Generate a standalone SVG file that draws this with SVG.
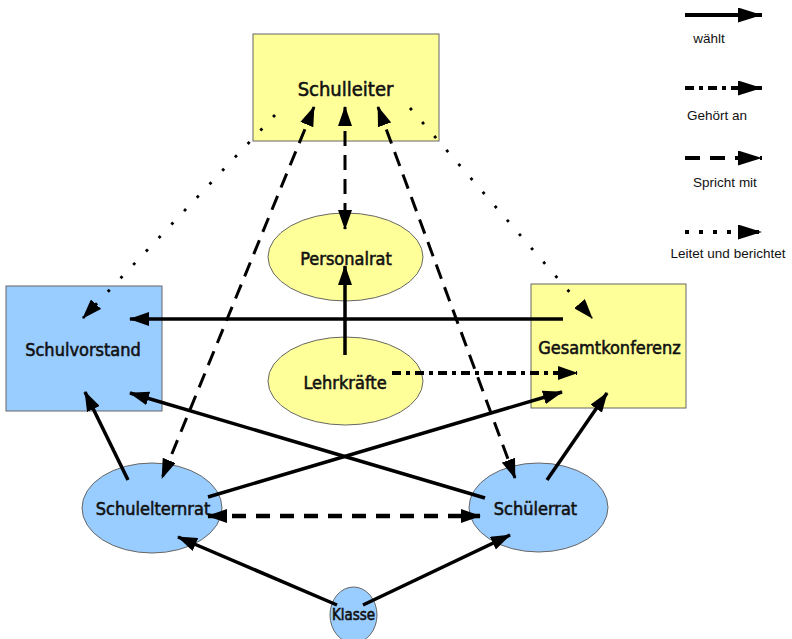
<svg xmlns="http://www.w3.org/2000/svg" width="792" height="639" viewBox="0 0 792 639">
<style>
.node text{font-family:"DejaVu Sans Condensed","DejaVu Sans",sans-serif;font-stretch:condensed;font-size:18px;fill:#111;stroke:#111;stroke-width:0.55;text-anchor:middle}
.y{fill:#FFFF99;stroke:#666;stroke-width:1}
.b{fill:#99CCFF;stroke:#666;stroke-width:1}
.solid{fill:none;stroke:#000;stroke-width:3.5}
.dash{fill:none;stroke:#000;stroke-width:3;stroke-dasharray:15 9}
.dot{fill:none;stroke:#000;stroke-width:2.8;stroke-dasharray:2.8 15.7}
.dd{fill:none;stroke:#000;stroke-width:4;stroke-dasharray:9 5 4 5}
.lg{font-family:"Liberation Sans",Arial,sans-serif;font-size:13.5px;fill:#111;text-anchor:middle}
</style>
<defs>
<marker id="ah" markerUnits="userSpaceOnUse" markerWidth="20" markerHeight="14" refX="19" refY="7" orient="auto-start-reverse" viewBox="0 0 20 14">
<path d="M0,0 L20,7 L0,14 z" fill="#000"/>
</marker>
<marker id="ahL" markerUnits="userSpaceOnUse" markerWidth="24" markerHeight="15" refX="24" refY="7.5" orient="auto" viewBox="0 0 24 15">
<path d="M0,0 L24,7.5 L0,15 z" fill="#000"/>
</marker>
</defs>

<g id="n-schulleiter" class="node">
<rect class="y" x="253" y="34" width="186" height="107"/>
<text x="345.5" y="96" style="font-size:20px">Schulleiter</text>
</g>
<g id="n-personalrat" class="node">
<ellipse class="y" cx="345.5" cy="257" rx="77.5" ry="44"/>
<text x="346" y="265">Personalrat</text>
</g>
<g id="n-lehrkraefte" class="node">
<ellipse class="y" cx="345.5" cy="381" rx="77.5" ry="44"/>
<text x="345" y="389">Lehrkräfte</text>
</g>
<g id="n-schulvorstand" class="node">
<rect class="b" x="6" y="286" width="156" height="125"/>
<text x="83" y="356">Schulvorstand</text>
</g>
<g id="n-gesamtkonferenz" class="node">
<rect class="y" x="531" y="284" width="155" height="124"/>
<text x="609.5" y="354">Gesamtkonferenz</text>
</g>
<g id="n-schulelternrat" class="node">
<ellipse class="b" cx="152" cy="508" rx="70" ry="45"/>
<text x="153" y="515">Schulelternrat</text>
</g>
<g id="n-schuelerrat" class="node">
<ellipse class="b" cx="538.5" cy="507.5" rx="69.5" ry="44.5"/>
<text x="535.5" y="515">Schülerrat</text>
</g>
<g id="n-klasse" class="node">
<ellipse class="b" cx="353.5" cy="615" rx="23.5" ry="28"/>
<text x="353.5" y="620" style="font-size:15px">Klasse</text>
</g>

<g id="connectors">
<!-- Leitet und berichtet -->
<path class="dot" d="M275,115 L83,318" marker-end="url(#ah)"/>
<path class="dot" d="M410,108 L592,318" marker-end="url(#ah)"/>
<!-- Spricht mit -->
<path class="dash" d="M345,107 L345,229" marker-start="url(#ah)" marker-end="url(#ah)"/>
<path class="dash" d="M314,107 L162,478" marker-start="url(#ah)" marker-end="url(#ah)"/>
<path class="dash" d="M378,107 L515,478" marker-start="url(#ah)" marker-end="url(#ah)"/>
<path class="dash" style="stroke-width:4.5;stroke-dasharray:14 10" d="M208,516 L480,516" marker-start="url(#ah)" marker-end="url(#ah)"/>
<!-- wählt -->
<path class="solid" d="M563,319 L130,319" marker-end="url(#ah)"/>
<path class="solid" d="M345,355 L345,266" marker-end="url(#ah)"/>
<path class="solid" d="M128,480 L85,392" marker-end="url(#ah)"/>
<path class="solid" d="M485,498 L130,393" marker-end="url(#ah)"/>
<path class="solid" d="M208,497 L562,392" marker-end="url(#ah)"/>
<path class="solid" d="M547,480 L607,393" marker-end="url(#ah)"/>
<path class="solid" d="M337,605 L178,537" marker-end="url(#ah)"/>
<path class="solid" d="M363,605 L510,535" marker-end="url(#ah)"/>
<!-- Gehört an -->
<path class="dd" d="M392,373 L577,373" marker-end="url(#ah)"/>
</g>

<g id="legend">
<path class="solid" style="stroke-width:4" d="M685,15 L762,15" marker-end="url(#ahL)"/>
<text class="lg" x="709" y="43">wählt</text>
<path class="dd" d="M685,88 L762,88" marker-end="url(#ahL)"/>
<text class="lg" x="717" y="120">Gehört an</text>
<path class="dash" style="stroke-width:4;stroke-dasharray:15 10" d="M685,158 L762,158" marker-end="url(#ahL)"/>
<text class="lg" x="725" y="187">Spricht mit</text>
<path class="dot" style="stroke-width:4;stroke-dasharray:4 10" d="M685,232 L762,232" marker-end="url(#ahL)"/>
<text class="lg" x="728" y="258">Leitet und berichtet</text>
</g>
</svg>
